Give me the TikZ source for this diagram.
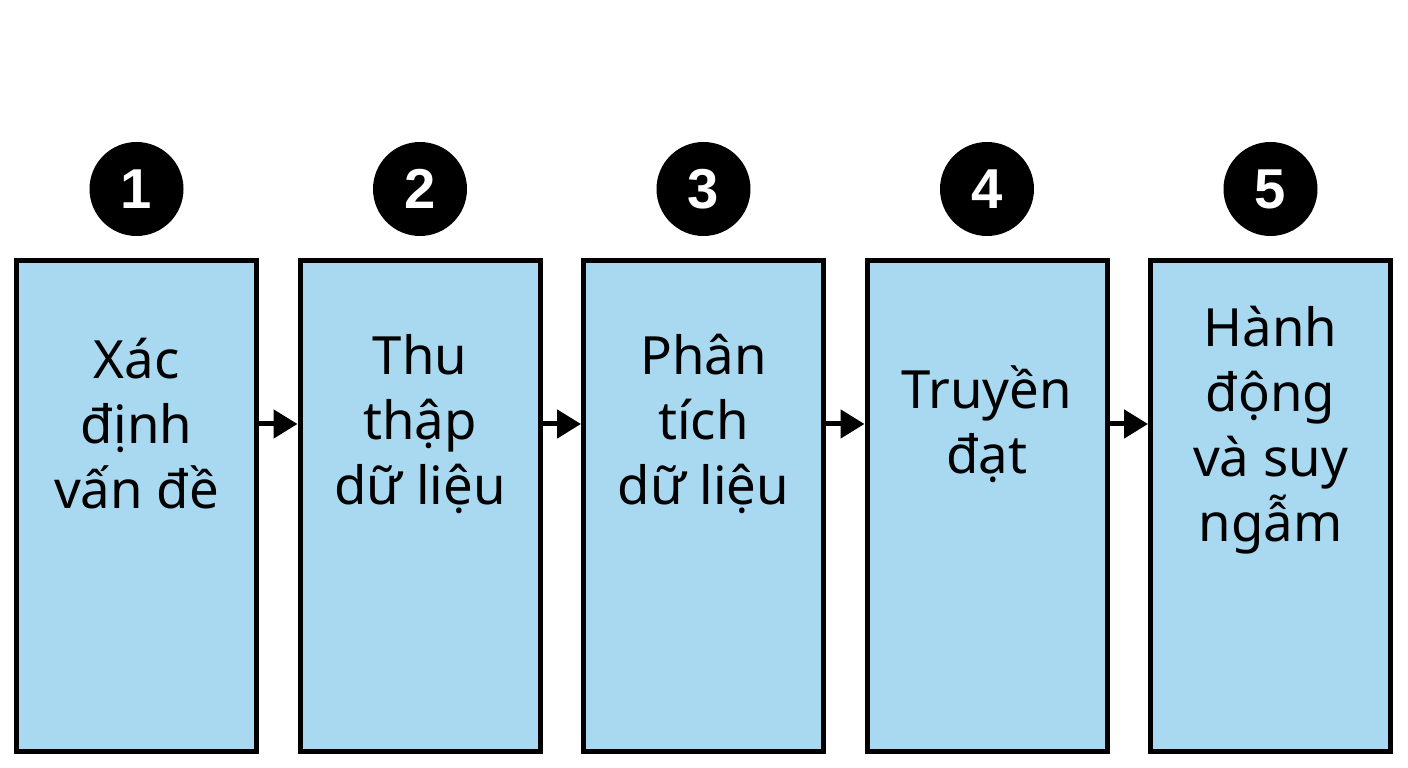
\documentclass[tikz,border=0pt]{standalone}
\usepackage{fontspec}
\setmainfont{Noto Sans}
\newfontfamily\numfont{Liberation Sans}
\usetikzlibrary{positioning, arrows.meta}
\definecolor{boxblue}{RGB}{168,217,240}

\tikzset{
	stepbox/.style={fill=boxblue,draw=black,line width=0.05cm,minimum width=2.4cm,minimum height=4.91cm},
	steptext/.style={align=center,font=\fontsize{15}{18.5}\selectfont},
	badge/.style={circle,fill=black,text=white,minimum size=0.94cm,inner sep=0pt,font=\numfont\fontsize{16}{16}\selectfont\bfseries},
	flow/.style={line width=0.05cm,-{Triangle[length=0.24cm,width=0.28cm]}}
}

\begin{document}
\begin{tikzpicture}
	\useasboundingbox (0,0) rectangle (14.08,7.68);

	\node (b1) at (1.365,2.62) [stepbox] {};
	\node (b2) at (4.200,2.62) [stepbox] {};
	\node (b3) at (7.035,2.62) [stepbox] {};
	\node (b4) at (9.870,2.62) [stepbox] {};
	\node (b5) at (12.705,2.62) [stepbox] {};

	%numbers
	\node (n1) at (1.365,5.79) [badge] {1};
	\node (n2) at (4.200,5.79) [badge] {2};
	\node (n3) at (7.035,5.79) [badge] {3};
	\node (n4) at (9.870,5.79) [badge] {4};
	\node (n5) at (12.705,5.79) [badge] {5};

	%labels
	\node (t1) at (1.365,3.44) [steptext] {Xác\\định\\vấn đề};
	\node (t2) at (4.200,3.44) [steptext] {Thu\\thập\\dữ liệu};
	\node (t3) at (7.035,3.44) [steptext] {Phân\\tích\\dữ liệu};
	\node (t4) at (9.870,3.44) [steptext] {Truyền\\đạt};
	\node (t5) at (12.705,3.38) [steptext] {Hành\\động\\ và suy\\ngẫm};

	\draw[flow] (t1 -| b1.east) -- (t1 -| b2.west);
	\draw[flow] (t2 -| b2.east) -- (t2 -| b3.west);
	\draw[flow] (t3 -| b3.east) -- (t3 -| b4.west);
	\draw[flow] (t4 -| b4.east) -- (t4 -| b5.west);
\end{tikzpicture}
\end{document}
